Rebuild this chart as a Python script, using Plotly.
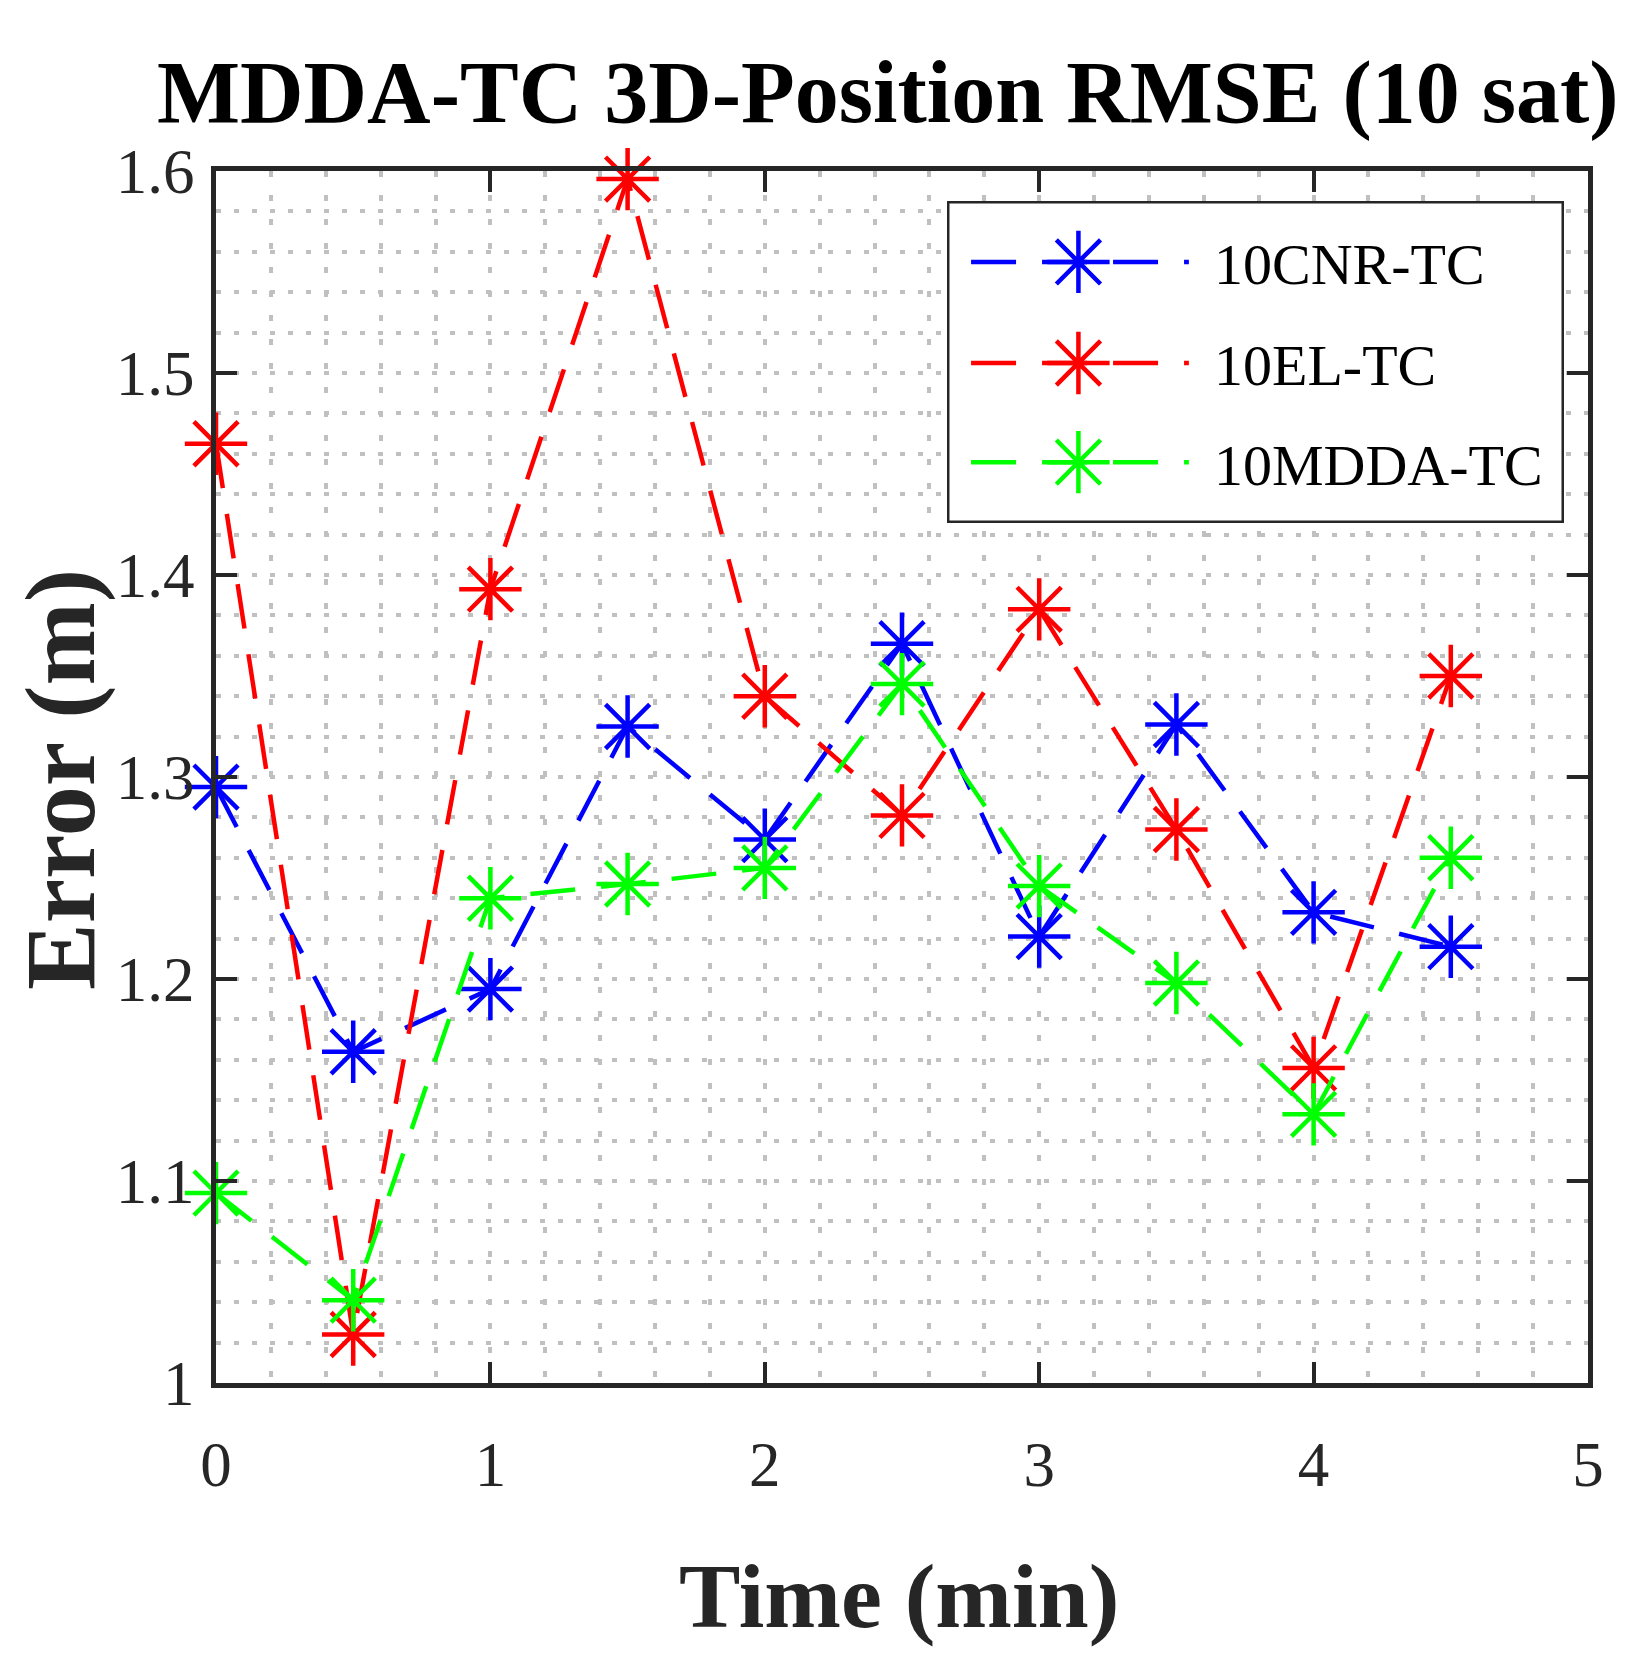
"""MDDA-TC 3D-position RMSE chart (10 satellites) rebuilt with plotly."""

import plotly.graph_objects as go

# data
time_min = [0, 0.5, 1, 1.5, 2, 2.5, 3, 3.5, 4, 4.5]
cnr_tc = [1.295, 1.164, 1.195, 1.325, 1.269, 1.366, 1.221, 1.326, 1.233, 1.216]
el_tc = [1.465, 1.024, 1.393, 1.596, 1.340, 1.281, 1.383, 1.274, 1.156, 1.350]
mdda_tc = [1.094, 1.041, 1.240, 1.247, 1.255, 1.346, 1.246, 1.198, 1.133, 1.260]

series_names = ["10CNR-TC", "10EL-TC", "10MDDA-TC"]
series_colors = ["#0000ff", "#ff0000", "#00ff00"]

x_ticks = [0, 1, 2, 3, 4, 5]
y_ticks = [1.0, 1.1, 1.2, 1.3, 1.4, 1.5, 1.6]
y_tick_text = ["1", "1.1", "1.2", "1.3", "1.4", "1.5", "1.6"]

FONT = "Liberation Serif"
AXIS_COLOR = "#262626"
GRID_COLOR = "#c0c0c0"
DASH = "45px,26px"


def star_marker(color):
    # open asterisk: stroke colour comes from marker.color
    return {"symbol": "asterisk-open", "size": 52, "color": color,
            "line": {"color": color, "width": 4.5}}


fig = go.Figure()

for name, ys, color in zip(series_names, [cnr_tc, el_tc, mdda_tc], series_colors):
    fig.add_trace(go.Scatter(
        x=time_min,
        y=ys,
        mode="lines+markers",
        name=name,
        showlegend=False,
        cliponaxis=False,
        line={"color": color, "width": 4.5, "dash": DASH},
        marker=star_marker(color),
    ))

# hand-made legend on a hidden helper axis, so the line samples can be long
legend_rows = [0.811, 0.497, 0.189]
for name, color, row in zip(series_names, series_colors, legend_rows):
    fig.add_trace(go.Scatter(
        x=[0.039, 0.392], y=[row, row], xaxis="x2", yaxis="y2",
        mode="lines", showlegend=False, hoverinfo="skip",
        line={"color": color, "width": 4.5, "dash": DASH},
    ))
    fig.add_trace(go.Scatter(
        x=[0.213], y=[row], xaxis="x2", yaxis="y2",
        mode="markers", showlegend=False, hoverinfo="skip",
        marker=star_marker(color),
    ))
    fig.add_annotation(
        x=0.4295, y=row, xref="x2", yref="y2", text=name, showarrow=False,
        xanchor="left", yanchor="middle", yshift=-3,
        font={"family": FONT, "size": 58, "color": "#000000"},
    )

fig.add_shape(
    type="rect", xref="x2", yref="y2", x0=0, x1=1, y0=0, y1=1,
    line={"color": AXIS_COLOR, "width": 5}, fillcolor="white", layer="between",
)

# axis titles as annotations so they sit exactly where the reference has them
fig.add_annotation(
    x=0, y=0.4975, xref="paper", yref="paper", xshift=-156,
    text="Error (m)", textangle=-90, showarrow=False,
    xanchor="center", yanchor="middle",
    font={"family": FONT, "size": 100, "color": AXIS_COLOR, "weight": "bold"},
)
fig.add_annotation(
    x=0.4978, y=-0.1757, xref="paper", yref="paper",
    text="Time (min)", showarrow=False,
    xanchor="center", yanchor="middle",
    font={"family": FONT, "size": 92, "color": AXIS_COLOR, "weight": "bold"},
)

axis_common = {
    "showline": True,
    "linecolor": AXIS_COLOR,
    "linewidth": 5,
    "mirror": "ticks",
    "ticks": "inside",
    "ticklen": 21,
    "tickwidth": 4,
    "tickcolor": AXIS_COLOR,
    "tickfont": {"family": FONT, "size": 63, "color": AXIS_COLOR},
    "showgrid": True,
    "gridcolor": GRID_COLOR,
    "gridwidth": 4,
    "zeroline": False,
}

fig.update_layout(
    width=1641,
    height=1680,
    margin={"l": 216, "r": 53, "t": 171, "b": 297},
    paper_bgcolor="white",
    plot_bgcolor="white",
    title={
        "text": "MDDA-TC 3D-Position RMSE (10 sat)",
        "x": 0.541, "xanchor": "center",
        "y": 0.964, "yanchor": "top",
        "font": {"family": FONT, "size": 88, "color": "#000000", "weight": "bold"},
    },
    xaxis={
        **axis_common,
        "range": [0, 5],
        "tickvals": x_ticks,
        "griddash": "6px,18px",
        "minor": {"dtick": 0.2, "showgrid": True, "gridcolor": GRID_COLOR,
                  "gridwidth": 4, "griddash": "6px,18px"},
        "ticklabelstandoff": 22,
    },
    yaxis={
        **axis_common,
        "range": [1, 1.6],
        "tickvals": y_ticks,
        "ticktext": y_tick_text,
        "griddash": "5px,13px",
        "minor": {"dtick": 0.02, "showgrid": True, "gridcolor": GRID_COLOR,
                  "gridwidth": 4, "griddash": "5px,13px"},
        "ticklabelstandoff": 4,
    },
    xaxis2={"domain": [0.5328, 0.9825], "range": [0, 1], "visible": False,
            "anchor": "y2", "fixedrange": True},
    yaxis2={"domain": [0.7096, 0.9752], "range": [0, 1], "visible": False,
            "anchor": "x2", "fixedrange": True},
    showlegend=False,
)

# the browser's default 8px body margin would shift the whole figure
fig.write_html(
    "out.html",
    config={"displayModeBar": False},
    post_script="document.body.style.margin = '0px';",
)
